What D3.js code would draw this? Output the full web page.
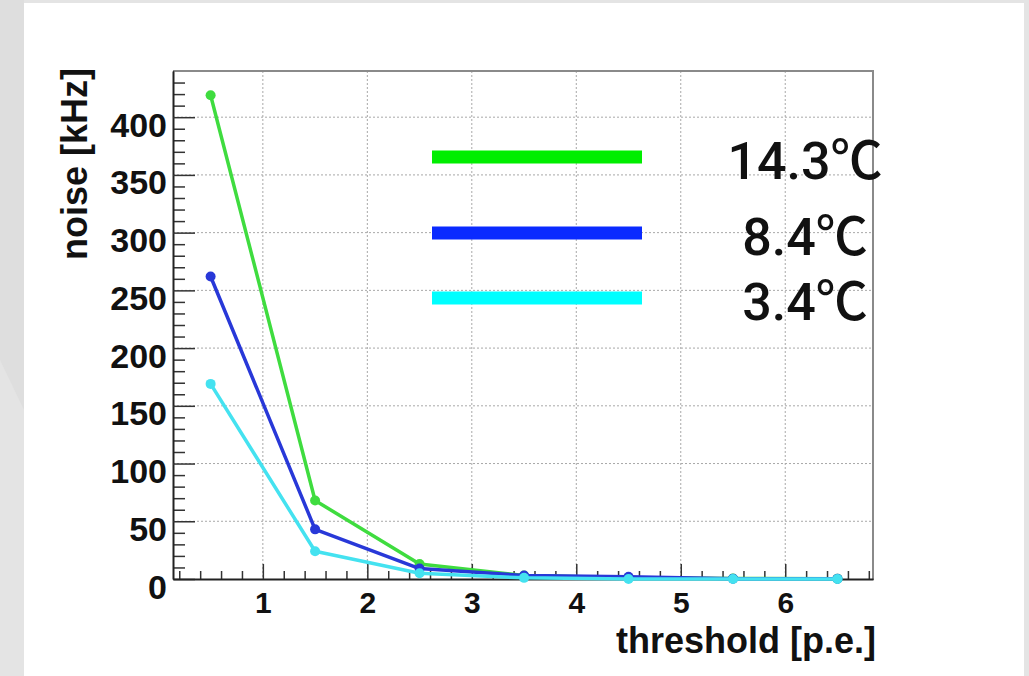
<!DOCTYPE html>
<html>
<head>
<meta charset="utf-8">
<script src="https://cdn.jsdelivr.net/npm/d3@7"></script>
<style>
    html, body { margin: 0; padding: 0; background: #e4e4e4; }
    #chart { width: 1029px; height: 676px; }
</style>
</head>
<body>
<div id="chart"></div>
<script>
// threshold bins (p.e.)
const thresholds = [0.5, 1.5, 2.5, 3.5, 4.5, 5.5, 6.5];

// noise rates in kHz
const noiseHigh = [419, 68, 13, 3, 1, 0.5, 0.3];   // 14.3 C
const noiseMid  = [262, 43, 9, 3, 2, 0.3, 0.2];    // 8.4 C
const noiseLow  = [169, 24, 5, 1, 0, 0, 0];        // 3.4 C

const seriesNames  = ["14.3℃", "8.4℃", "3.4℃"];
const seriesValues = [noiseHigh, noiseMid, noiseLow];

const xTicks = [1, 2, 3, 4, 5, 6];
const yTicks = [0, 50, 100, 150, 200, 250, 300, 350, 400];

class NoiseVis {
    constructor(_parentElement) {
        this.parentElement = _parentElement;
        this.initVis();
    }

    initVis() {
        let vis = this;

        vis.margin = {top: 71, right: 156, bottom: 97, left: 173};
        vis.fullWidth = 1029;
        vis.fullHeight = 676;
        vis.width = vis.fullWidth - vis.margin.left - vis.margin.right;
        vis.height = vis.fullHeight - vis.margin.top - vis.margin.bottom;

        vis.root = d3.select("#" + vis.parentElement).append("svg")
            .attr("width", vis.fullWidth)
            .attr("height", vis.fullHeight);

        // slide background: grey page with a white panel
        vis.root.append("rect")
            .attr("width", vis.fullWidth).attr("height", vis.fullHeight)
            .attr("fill", "#e4e4e4");
        vis.root.append("path")
            .attr("d", "M0,0 L24,0 L24,410 L0,360 Z")
            .attr("fill", "#dedede");
        vis.root.append("rect")
            .attr("x", 24).attr("y", 3)
            .attr("width", 1000).attr("height", 680)
            .attr("fill", "#ffffff");

        vis.svg = vis.root.append("g")
            .attr("transform", "translate(" + vis.margin.left + "," + vis.margin.top + ")");

        vis.x = d3.scaleLinear().domain([0.14, 6.84]).range([0, vis.width]);
        vis.y = d3.scaleLinear().domain([0, 440]).range([vis.height, 0]);

        vis.colors = ["#3fdc3f", "#2838d8", "#44e2f0"];
        vis.legendColors = ["#00ee00", "#0a2aff", "#00ffff"];

        vis.wrangleData();
    }

    wrangleData() {
        let vis = this;

        vis.displayData = seriesNames.map(function(name, i) {
            return {
                name: name,
                values: thresholds.map(function(t, j) {
                    return {x: t, y: seriesValues[i][j]};
                })
            };
        });

        vis.updateVis();
    }

    updateVis() {
        let vis = this;

        // dotted grid at major ticks
        vis.svg.append("g").selectAll("line.vgrid")
            .data(xTicks).enter().append("line")
            .attr("x1", d => vis.x(d)).attr("x2", d => vis.x(d))
            .attr("y1", 0).attr("y2", vis.height)
            .attr("stroke", "#a8a8a8").attr("stroke-width", 1)
            .attr("stroke-dasharray", "2,2");
        vis.svg.append("g").selectAll("line.hgrid")
            .data(yTicks.filter(d => d > 0)).enter().append("line")
            .attr("x1", 0).attr("x2", vis.width)
            .attr("y1", d => vis.y(d)).attr("y2", d => vis.y(d))
            .attr("stroke", "#a8a8a8").attr("stroke-width", 1)
            .attr("stroke-dasharray", "2,2");

        // frame top/right
        vis.svg.append("path")
            .attr("d", "M0,0 H" + vis.width + " V" + vis.height)
            .attr("fill", "none")
            .attr("stroke", "#8a8a8a")
            .attr("stroke-width", 2);

        // minor ticks (ROOT style, inside)
        let yMinor = d3.range(10, 440, 10).filter(d => d % 50 !== 0);
        let xMinor = d3.range(0.2, 6.84, 0.2).filter(d => Math.abs(d - Math.round(d)) > 0.01);

        vis.svg.append("g")
            .call(d3.axisLeft(vis.y).tickValues(yMinor).tickSize(-12).tickSizeOuter(0).tickFormat(""))
            .call(g => g.selectAll("line").attr("stroke", "#333").attr("stroke-width", 1.5));
        vis.svg.append("g")
            .attr("transform", "translate(0," + vis.height + ")")
            .call(d3.axisBottom(vis.x).tickValues(xMinor).tickSize(-8).tickSizeOuter(0).tickFormat(""))
            .call(g => g.selectAll("line").attr("stroke", "#333").attr("stroke-width", 1.5));

        // major ticks and labels
        let yAxis = vis.svg.append("g")
            .call(d3.axisLeft(vis.y).tickValues(yTicks).tickSize(-22).tickSizeOuter(0).tickPadding(6));
        yAxis.selectAll("line").attr("stroke", "#333").attr("stroke-width", 1.5);
        yAxis.select(".domain").attr("stroke", "#222").attr("stroke-width", 2);
        yAxis.selectAll("text")
            .attr("dy", 19)
            .style("font-family", "'Liberation Sans', Arial, sans-serif")
            .style("font-weight", "bold")
            .style("font-size", "34px")
            .attr("fill", "#111");

        let xAxis = vis.svg.append("g")
            .attr("transform", "translate(0," + vis.height + ")")
            .call(d3.axisBottom(vis.x).tickValues(xTicks).tickFormat(d3.format("d")).tickSize(-15).tickSizeOuter(0));
        xAxis.selectAll("line").attr("stroke", "#333").attr("stroke-width", 1.5);
        xAxis.select(".domain").attr("stroke", "#222").attr("stroke-width", 2);
        xAxis.selectAll("text")
            .attr("y", 34).attr("dy", 0)
            .style("font-family", "'Liberation Sans', Arial, sans-serif")
            .style("font-weight", "bold")
            .style("font-size", "30px")
            .attr("fill", "#111");

        // axis titles
        vis.svg.append("text")
            .attr("x", vis.width + 3)
            .attr("y", vis.height + 74)
            .attr("text-anchor", "end")
            .style("font-family", "'Liberation Sans', Arial, sans-serif")
            .style("font-weight", "bold")
            .style("font-size", "36px")
            .attr("fill", "#111")
            .text("threshold [p.e.]");

        vis.svg.append("text")
            .attr("transform", "translate(-86,-3) rotate(-90)")
            .attr("text-anchor", "end")
            .style("font-family", "'Liberation Sans', Arial, sans-serif")
            .style("font-weight", "bold")
            .style("font-size", "36px")
            .attr("fill", "#111")
            .text("noise [kHz]");

        // data lines
        let line = d3.line().x(d => vis.x(d.x)).y(d => vis.y(d.y));

        vis.displayData.forEach(function(s, i) {
            vis.svg.append("path")
                .datum(s.values)
                .attr("d", line)
                .attr("fill", "none")
                .attr("stroke", vis.colors[i])
                .attr("stroke-width", 3.5)
                .attr("stroke-linejoin", "round");

            vis.svg.append("g").selectAll("circle")
                .data(s.values).enter().append("circle")
                .attr("cx", d => vis.x(d.x))
                .attr("cy", d => vis.y(d.y))
                .attr("r", 5)
                .attr("fill", vis.colors[i]);
        });

        // legend
        let legendRows = [86, 162, 227];
        let legend = vis.root.append("g");
        vis.displayData.forEach(function(s, i) {
            legend.append("line")
                .attr("x1", 432).attr("x2", 642)
                .attr("y1", vis.margin.top + legendRows[i])
                .attr("y2", vis.margin.top + legendRows[i])
                .attr("stroke", vis.legendColors[i])
                .attr("stroke-width", 13);
            legend.append("text")
                .attr("x", 805)
                .attr("y", vis.margin.top + legendRows[i] + 22)
                .attr("text-anchor", "middle")
                .style("font-family", "Roboto, 'Noto Sans CJK JP', sans-serif")
                .style("font-weight", 500)
                .style("font-size", "52px")
                .attr("fill", "#111")
                .text(s.name);
        });
    }
}

new NoiseVis("chart");
</script>
</body>
</html>
